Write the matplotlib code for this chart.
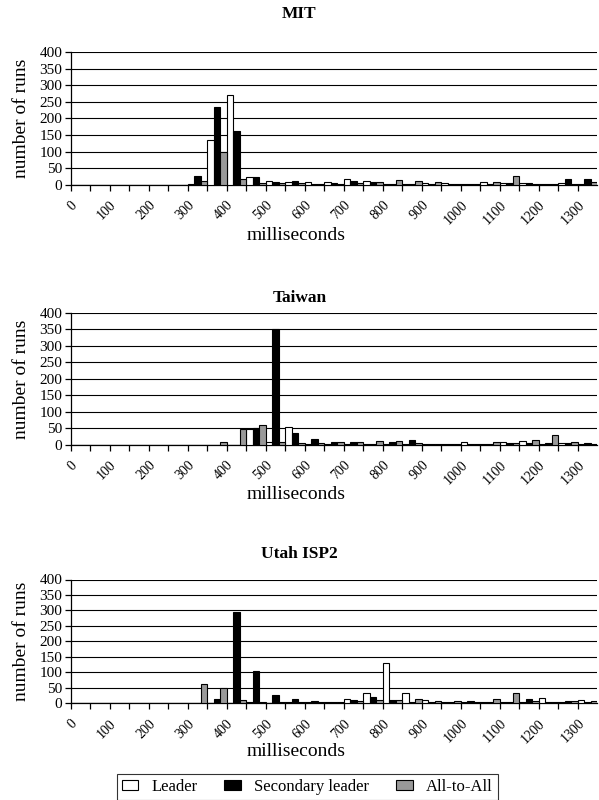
import matplotlib

matplotlib.use("Agg")
import matplotlib.pyplot as plt
import numpy as np

plt.rcParams["font.family"] = ["Liberation Serif", "DejaVu Serif"]

# 50 ms bins, labelled every 100 ms
BINS_MS = list(range(0, 1350, 50))
TICK_LABELS = [str(v) for v in BINS_MS if v % 100 == 0]
SERIES = ["Leader", "Secondary leader", "All-to-All"]

MIT_LEADER = [0, 0, 0, 0, 0, 0, 3, 136, 270, 22, 12, 9, 7, 8, 18, 12, 3, 1, 6, 5, 3, 8, 5, 4, 2, 4, 3]
MIT_SECONDARY = [0, 0, 0, 0, 0, 0, 25, 233, 162, 22, 9, 12, 3, 5, 12, 9, 3, 1, 2, 2, 2, 2, 4, 4, 3, 17, 17]
MIT_ALL = [0, 0, 0, 0, 0, 0, 12, 100, 16, 5, 6, 4, 2, 2, 5, 9, 15, 12, 8, 3, 2, 8, 27, 2, 3, 3, 8]

TAIWAN_LEADER = [0, 0, 0, 0, 0, 0, 0, 0, 0, 48, 8, 53, 2, 2, 2, 1, 2, 2, 1, 1, 7, 2, 7, 11, 2, 4, 2]
TAIWAN_SECONDARY = [0, 0, 0, 0, 0, 0, 0, 0, 0, 50, 350, 37, 17, 7, 7, 2, 7, 15, 2, 3, 2, 2, 4, 4, 4, 4, 5]
TAIWAN_ALL = [0, 0, 0, 0, 0, 0, 0, 8, 48, 59, 8, 5, 4, 7, 7, 11, 11, 4, 2, 2, 2, 7, 4, 13, 30, 7, 2]

UTAH_LEADER = [0, 0, 0, 0, 0, 0, 0, 0, 0, 3, 0, 4, 2, 2, 14, 32, 130, 32, 10, 2, 2, 2, 2, 3, 16, 3, 11]
UTAH_SECONDARY = [0, 0, 0, 0, 0, 0, 0, 14, 294, 105, 25, 14, 5, 2, 9, 18, 9, 3, 2, 2, 7, 3, 4, 12, 3, 5, 3]
UTAH_ALL = [0, 0, 0, 0, 0, 0, 63, 48, 11, 3, 2, 3, 2, 3, 5, 9, 9, 13, 6, 7, 3, 12, 32, 5, 3, 5, 7]

PANELS = [
    ("MIT", (MIT_LEADER, MIT_SECONDARY, MIT_ALL)),
    ("Taiwan", (TAIWAN_LEADER, TAIWAN_SECONDARY, TAIWAN_ALL)),
    ("Utah ISP2", (UTAH_LEADER, UTAH_SECONDARY, UTAH_ALL)),
]

# layout in pixels of the 599x800 canvas: (axes top, axes bottom, title y, xlabel y)
W, H = 599, 800
AX_LEFT, AX_RIGHT = 70.7, 597.2
LAYOUT = [(52, 184.7, 14, 235), (313, 444.7, 298, 494), (579.5, 703, 554, 752)]
COLORS = ["white", "black", "#999999"]


def fx(px):
    return px / W


def fy(px):
    return 1 - px / H


fig = plt.figure(figsize=(W / 100, H / 100), dpi=100)

handles = []
for (title, series), (top, bottom, ty, ly) in zip(PANELS, LAYOUT):
    ax = fig.add_axes([fx(AX_LEFT), fy(bottom), fx(AX_RIGHT) - fx(AX_LEFT), (bottom - top) / H])
    x = np.arange(len(BINS_MS))
    w = 1 / 3
    handles = []
    for i, (vals, col) in enumerate(zip(series, COLORS)):
        b = ax.bar(x + w * (i + 0.5), vals, w, color=col, edgecolor="black", linewidth=0.8,
                   label=SERIES[i], zorder=3)
        handles.append(b)
    ax.set_xlim(0, len(BINS_MS))
    ax.set_ylim(0, 400)
    ax.set_yticks(range(0, 401, 50))
    ax.yaxis.grid(True, color="black", lw=0.8, zorder=0)
    ax.set_axisbelow(True)
    for s in ("top", "right"):
        ax.spines[s].set_visible(False)
    for s in ("left", "bottom"):
        ax.spines[s].set_linewidth(0.9)
    ax.set_xticks(x, minor=True)
    ax.set_xticks(x[::2])
    ax.set_xticklabels(TICK_LABELS, rotation=45, ha="right", va="top", rotation_mode="anchor",
                       fontsize=10)
    ax.tick_params(axis="x", which="both", direction="out", length=4, width=0.9, pad=6)
    ax.tick_params(axis="y", direction="out", length=4, width=0.9, labelsize=11, pad=2)
    fig.text(0.5, fy(ty), title, ha="center", va="center", fontsize=12.5, fontweight="bold")
    fig.text(fx(296), fy(ly), "milliseconds", ha="center", va="center", fontsize=14)
    fig.text(fx(22), fy((top + bottom) / 2), "number of runs", rotation=90,
             ha="center", va="center", fontsize=14)

leg = fig.legend(handles, SERIES, ncol=3, loc="upper center", bbox_to_anchor=(0.513, fy(774)),
                 frameon=True, fancybox=False, edgecolor="black", fontsize=12,
                 handlelength=1.0, handleheight=0.6, columnspacing=1.6, borderaxespad=0,
                 borderpad=0.3)
leg.get_frame().set_linewidth(0.8)

fig.savefig("out.png", dpi=100)
